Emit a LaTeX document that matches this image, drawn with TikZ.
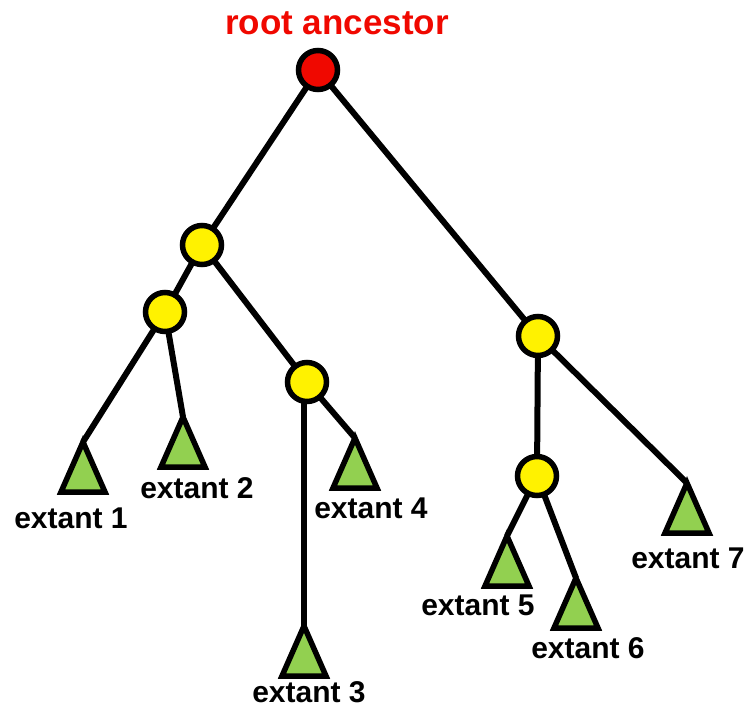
\documentclass[tikz,border=0pt]{standalone}
\usepackage{fontspec}
\setmainfont{Liberation Sans}
\definecolor{leafgreen}{RGB}{146,208,80}
\definecolor{rootred}{RGB}{240,8,0}
\begin{document}
\begin{tikzpicture}[x=1pt,y=-1pt,
  anc/.style={circle,draw=black,line width=5.5pt,fill=yellow,minimum size=39pt,inner sep=0pt},
  rootnode/.style={anc,fill=rootred},
  edge/.style={line width=6pt,black},
  leaf/.style={draw=black,line width=5.5pt,fill=leafgreen,line join=miter},
  lab/.style={anchor=base,inner sep=0pt,font=\fontsize{30}{36}\selectfont\bfseries},
  toplab/.style={anchor=base,inner sep=0pt,text=rootred,font=\fontsize{35}{42}\selectfont\bfseries}
]
\useasboundingbox (0,0) rectangle (750,711);
% coordinates of leaf apices
\coordinate (t1) at (83,442);
\coordinate (t2) at (183,417);
\coordinate (t3) at (304,626);
\coordinate (t4) at (355,438);
\coordinate (t5) at (507,536);
\coordinate (t6) at (576,578);
\coordinate (t7) at (687,483);
% positions of inner nodes
\coordinate (pr) at (318,70);
\coordinate (pA) at (202,245);
\coordinate (pB) at (165,312);
\coordinate (pC) at (307,382);
\coordinate (pD) at (538,336);
\coordinate (pE) at (537,476);
% edges
\draw[edge] (pr) -- (pA);
\draw[edge] (pr) -- (pD);
\draw[edge] (pA) -- (pB);
\draw[edge] (pA) -- (pC);
\draw[edge] (pB) -- (t1);
\draw[edge] (pB) -- (t2);
\draw[edge] (t3 |- pC) -- (t3);
\draw[edge] (pC) -- (t4);
\draw[edge] (pD) -- (pE);
\draw[edge] (pD) -- (t7);
\draw[edge] (pE) -- (t5);
\draw[edge] (pE) -- (t6);
% internal nodes
\node[rootnode] (root) at (pr) {};
\node[anc] (A) at (pA) {};
\node[anc] (B) at (pB) {};
\node[anc] (C) at (pC) {};
\node[anc] (D) at (pD) {};
\node[anc] (E) at (pE) {};
% leaves
\foreach \t in {t1,t2,t3,t4,t5,t6,t7}
  \draw[leaf] (\t) -- +(-22,50) -- +(22,50) -- cycle;
% labels
\node[toplab] (rl) at (337,35) {root ancestor};
\node[lab] (l1) at (71,528) {extant 1};
\node[lab] (l2) at (197,498) {extant 2};
\node[lab] (l3) at (309,702) {extant 3};
\node[lab] (l4) at (371,518) {extant 4};
\node[lab] (l5) at (478,615) {extant 5};
\node[lab] (l6) at (588,658) {extant 6};
\node[lab] (l7) at (688,568) {extant 7};
\end{tikzpicture}
\end{document}
